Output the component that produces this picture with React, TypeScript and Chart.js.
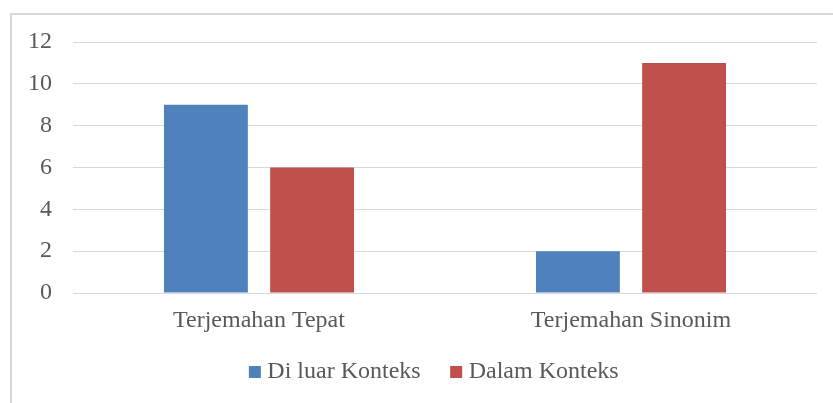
import React, { useEffect, useRef } from "react";
import { Chart, registerables } from "chart.js";

Chart.register(...registerables);

const categories = ["Terjemahan Tepat", "Terjemahan Sinonim"];
const seriesNames = ["Di luar Konteks", "Dalam Konteks"];
const diLuarKonteks = [9, 2];
const dalamKonteks = [6, 11];
const yTicks = [0, 2, 4, 6, 8, 10, 12];

const FONT = '"Liberation Serif", "Times New Roman", serif';
const TEXT = "#595959";
const BLUE = "#4F81BD";
const RED = "#C0504D";

const framePlugin = {
  id: "frame",
  beforeDraw(chart: any) {
    const ctx = chart.ctx;
    ctx.save();
    ctx.strokeStyle = "#d9d9d9";
    ctx.lineWidth = 2;
    ctx.strokeRect(11, 14, 900, 500);
    ctx.restore();
  },
};

export default function App() {
  const ref = useRef<HTMLCanvasElement | null>(null);

  useEffect(() => {
    if (!ref.current) return;
    const chart = new Chart(ref.current, {
      type: "bar",
      data: {
        labels: categories,
        datasets: [
          {
            label: seriesNames[0],
            data: diLuarKonteks,
            backgroundColor: BLUE,
            borderWidth: 0,
            categoryPercentage: 0.571,
            barPercentage: 0.79,
          },
          {
            label: seriesNames[1],
            data: dalamKonteks,
            backgroundColor: RED,
            borderWidth: 0,
            categoryPercentage: 0.571,
            barPercentage: 0.79,
          },
        ],
      },
      options: {
        animation: false,
        responsive: false,
        layout: { padding: { left: 28, right: -12, top: 42, bottom: 18 } },
        scales: {
          x: {
            grid: { display: false },
            border: { display: false },
            ticks: {
              color: TEXT,
              font: { family: FONT, size: 24 },
              mirror: true,
              padding: -42,
            },
            afterFit(s: any) {
              s.height = 32;
            },
          },
          y: {
            min: 0,
            max: 12,
            afterBuildTicks(s: any) {
              s.ticks = yTicks.map((v) => ({ value: v }));
            },
            grid: { color: "#d9d9d9", drawTicks: false, lineWidth: 1 },
            border: { display: false },
            ticks: { color: TEXT, font: { family: FONT, size: 24 }, padding: 21 },
            afterFit(s: any) {
              s.width = 45;
            },
          },
          y2: {
            type: "linear",
            position: "right",
            grid: { display: false },
            border: { display: false },
            ticks: { display: false },
            afterFit(s: any) {
              s.width = 28;
            },
          },
        },
        plugins: {
          legend: {
            position: "bottom",
            maxHeight: 60,
            labels: {
              usePointStyle: true,
              pointStyle: "rect",
              boxWidth: 1,
              boxHeight: 12,
              padding: 35,
              color: TEXT,
              font: { family: FONT, size: 24 },
            },
          },
          tooltip: { enabled: false },
        },
      } as any,
      plugins: [framePlugin],
    });
    return () => chart.destroy();
  }, []);

  return (
    <div style={{ position: "absolute", left: 0, top: 0, width: 833, height: 403 }}>
      <canvas ref={ref} width={833} height={403} />
    </div>
  );
}
